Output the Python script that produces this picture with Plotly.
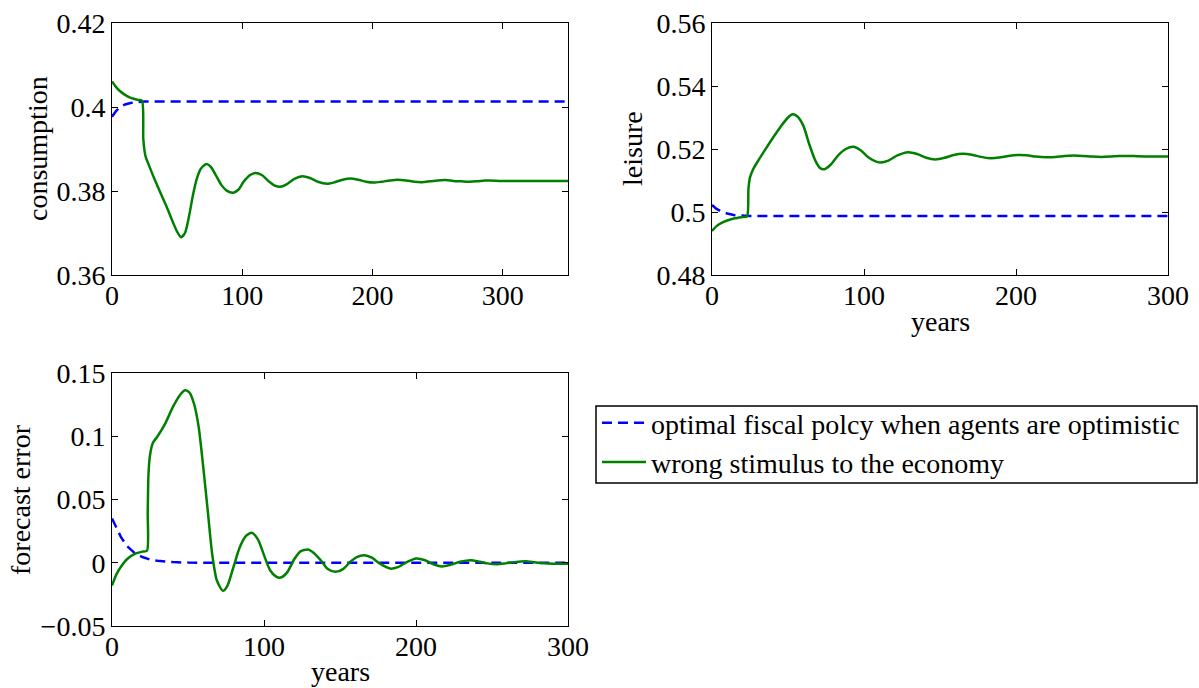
import plotly.graph_objects as go

# ---------------- data ----------------
# consumption panel
c_t_opt = [0, 3, 6, 10, 15, 20, 25, 350]
c_opt = [0.3977, 0.3990, 0.3999, 0.4006, 0.4010, 0.4012, 0.4013, 0.4013]
c_t_wrong = [0, 3, 6, 10, 15, 20, 23, 24, 25, 26, 28, 32, 37, 42, 47, 50, 53, 56, 59, 62,
             65, 68, 71, 73, 76, 80, 84, 88, 93, 97, 101, 106, 110, 115, 120, 125, 129, 134,
             140, 146, 152, 158, 165, 171, 177, 183, 189, 195, 201, 207, 213, 219, 226, 232,
             238, 244, 250, 256, 262, 268, 274, 280, 286, 290, 300, 320, 350]
c_wrong = [0.4061, 0.4048, 0.4038, 0.4029, 0.4021, 0.4017, 0.4015, 0.3925, 0.3895, 0.3880,
           0.3864, 0.3833, 0.3797, 0.3762, 0.3724, 0.3703, 0.3690, 0.3700, 0.3738, 0.3788,
           0.3828, 0.3852, 0.3862, 0.3864, 0.3857, 0.3836, 0.3814, 0.3801, 0.3796, 0.3803,
           0.3822, 0.3838, 0.3843, 0.3838, 0.3824, 0.3813, 0.3810, 0.3816, 0.3829, 0.3835,
           0.3831, 0.3822, 0.3817, 0.3821, 0.3827, 0.3830, 0.3827, 0.3822, 0.3820, 0.3822,
           0.3825, 0.3827, 0.3825, 0.3822, 0.3821, 0.3823, 0.3825, 0.3826, 0.3824, 0.3823,
           0.3822, 0.3823, 0.3825, 0.3825, 0.3824, 0.3824, 0.3824]

# leisure panel
l_t_opt = [0, 3, 6, 10, 15, 20, 25, 300]
l_opt = [0.5022, 0.5010, 0.5002, 0.4995, 0.4990, 0.4988, 0.4987, 0.4987]
l_t_wrong = [0, 3, 6, 10, 15, 20, 23, 24, 25, 27, 30, 35, 40, 45, 50, 53, 56, 60, 64, 68,
             71, 74, 78, 83, 88, 93, 98, 103, 108, 111, 116, 122, 129, 135, 141, 147, 153,
             159, 165, 171, 177, 183, 189, 195, 201, 207, 213, 220, 226, 232, 238, 244, 250,
             256, 262, 268, 274, 280, 290, 300]
l_wrong = [0.4940, 0.4955, 0.4965, 0.4973, 0.4980, 0.4984, 0.4986, 0.5075, 0.5110, 0.5135,
           0.5160, 0.5198, 0.5235, 0.5270, 0.5300, 0.5310, 0.5304, 0.5275, 0.5215, 0.5163,
           0.5140, 0.5136, 0.5150, 0.5180, 0.5200, 0.5207, 0.5195, 0.5173, 0.5160, 0.5157,
           0.5163, 0.5180, 0.5190, 0.5184, 0.5172, 0.5167, 0.5172, 0.5181, 0.5185, 0.5182,
           0.5175, 0.5171, 0.5173, 0.5178, 0.5181, 0.5180, 0.5176, 0.5174, 0.5175, 0.5178,
           0.5179, 0.5178, 0.5176, 0.5175, 0.5176, 0.5178, 0.5178, 0.5177, 0.5176, 0.5176]

# forecast error panel
f_t_opt = [0, 3, 6, 10, 15, 20, 25, 30, 40, 50, 60, 300]
f_opt = [0.035, 0.027, 0.020, 0.013, 0.0075, 0.0045, 0.0025, 0.0015, 0.0005, 0.0001, 0.0, 0.0]
f_t_wrong = [0, 3, 6, 10, 15, 20, 23, 23.5, 24, 25, 27, 30, 35, 40, 45, 48, 51, 54, 57, 60,
             63, 66, 69, 73, 76, 80, 84, 88, 92, 96, 100, 104, 108, 111, 115, 120, 124, 129,
             133, 138, 142, 147, 152, 157, 161, 166, 171, 176, 183, 188, 194, 200, 206, 211,
             217, 223, 229, 236, 242, 247, 253, 259, 265, 272, 278, 284, 290, 300]
f_wrong = [-0.0180, -0.0090, -0.0030, 0.0030, 0.0070, 0.0088, 0.0095, 0.0400, 0.0700, 0.0850,
           0.0950, 0.1000, 0.1100, 0.1230, 0.1330, 0.1363, 0.1345, 0.1255, 0.1075, 0.0760,
           0.0410, 0.0060, -0.0140, -0.0222, -0.0180, -0.0030, 0.0120, 0.0210, 0.0237, 0.0185,
           0.0060, -0.0059, -0.0110, -0.0117, -0.0080, 0.0030, 0.0090, 0.0105, 0.0075, 0.0010,
           -0.0050, -0.0072, -0.0050, 0.0010, 0.0045, 0.0060, 0.0040, -0.0005, -0.0046, -0.0035,
           0.0005, 0.0034, 0.0020, -0.0010, -0.0029, -0.0015, 0.0008, 0.0020, 0.0008, -0.0005,
           -0.0012, -0.0005, 0.0005, 0.0011, 0.0004, -0.0004, -0.0008, -0.0008]

# tick labels
x_ticks = [0, 100, 200, 300]
c_ticks = [0.36, 0.38, 0.40, 0.42]
c_ticktext = ["0.36", "0.38", "0.4", "0.42"]
l_ticks = [0.48, 0.50, 0.52, 0.54, 0.56]
l_ticktext = ["0.48", "0.5", "0.52", "0.54", "0.56"]
f_ticks = [-0.05, 0.0, 0.05, 0.10, 0.15]
f_ticktext = ["\u22120.05", "0", "0.05", "0.1", "0.15"]

name_opt = "optimal fiscal polcy when agents are optimistic"
name_wrong = "wrong stimulus to the economy"

BLUE = "#0000FF"
GREEN = "#008000"
W, H = 1199, 688
FONT = "Liberation Serif, Times New Roman, serif"
FS = 28

fig = go.Figure()

def add_pair(t1, y1, t2, y2, xa, ya, show):
    fig.add_trace(go.Scatter(x=t1, y=y1, mode="lines", name=name_opt, showlegend=show,
                             line=dict(color=BLUE, width=2.5, dash="10px,6px"),
                             xaxis=xa, yaxis=ya, legendrank=1))
    fig.add_trace(go.Scatter(x=t2, y=y2, mode="lines", name=name_wrong, showlegend=show,
                             line=dict(color=GREEN, width=2.5, shape="spline", smoothing=0.7),
                             xaxis=xa, yaxis=ya, legendrank=2))

add_pair(c_t_opt, c_opt, c_t_wrong, c_wrong, "x", "y", True)
add_pair(l_t_opt, l_opt, l_t_wrong, l_wrong, "x2", "y2", False)
add_pair(f_t_opt, f_opt, f_t_wrong, f_wrong, "x3", "y3", False)

def px_x(p):
    return p / W

def px_y(p):
    return 1 - p / H

common = dict(showline=True, linecolor="black", linewidth=1, mirror="ticks",
              ticks="inside", ticklen=6, tickcolor="black", showgrid=False,
              zeroline=False, automargin=False,
              tickfont=dict(size=FS, family=FONT, color="black"))
xcommon = dict(common, ticklabelstandoff=-5)

fig.update_layout(
    template="none",
    width=W, height=H,
    margin=dict(l=0, r=0, t=0, b=0, pad=0, autoexpand=False),
    paper_bgcolor="white", plot_bgcolor="white",
    font=dict(family=FONT, size=FS, color="black"),
    xaxis=dict(domain=[px_x(112), px_x(568)], range=[0, 350], tickvals=x_ticks,
               anchor="y", **xcommon),
    yaxis=dict(domain=[px_y(275), px_y(23)], range=[0.36, 0.42], tickvals=c_ticks,
               ticktext=c_ticktext, anchor="x", **common),
    xaxis2=dict(domain=[px_x(712), px_x(1168)], range=[0, 300], tickvals=x_ticks,
                anchor="y2", **xcommon),
    yaxis2=dict(domain=[px_y(275), px_y(23)], range=[0.48, 0.56], tickvals=l_ticks,
                ticktext=l_ticktext, anchor="x2", **common),
    xaxis3=dict(domain=[px_x(112), px_x(568)], range=[0, 300], tickvals=x_ticks,
                anchor="y3", **xcommon),
    yaxis3=dict(domain=[px_y(626), px_y(373)], range=[-0.05, 0.15], tickvals=f_ticks,
                ticktext=f_ticktext, anchor="x3", **common),
    legend=dict(x=px_x(597), y=px_y(398), xanchor="left", yanchor="top",
                borderwidth=0, bgcolor="rgba(0,0,0,0)",
                font=dict(size=FS, family=FONT, color="black"),
                tracegroupgap=0, itemwidth=44),
    showlegend=True,
)

# legend frame
fig.add_shape(type="rect", xref="paper", yref="paper",
              x0=px_x(596), x1=px_x(1197), y0=px_y(483), y1=px_y(406),
              line=dict(color="black", width=1.5), fillcolor="white", layer="below")

annots = [
    dict(text="consumption", x=px_x(37), y=px_y(149), textangle=-90),
    dict(text="leisure", x=px_x(632), y=px_y(149), textangle=-90),
    dict(text="forecast error", x=px_x(20), y=px_y(500), textangle=-90),
    dict(text="years", x=px_x(940), y=px_y(321), textangle=0),
    dict(text="years", x=px_x(340), y=px_y(671), textangle=0),
]
for a in annots:
    fig.add_annotation(xref="paper", yref="paper", showarrow=False,
                       xanchor="center", yanchor="middle",
                       font=dict(size=FS, family=FONT, color="black"), **a)

fig.write_html("out.html")
